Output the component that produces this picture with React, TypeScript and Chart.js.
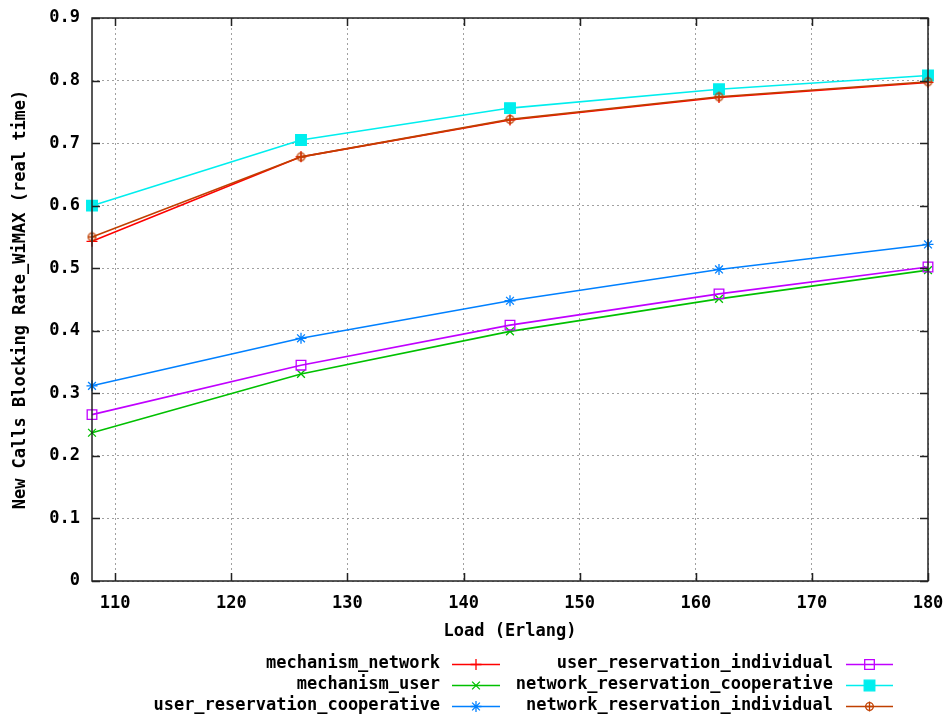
import React, { useEffect, useRef } from 'react';
import { Chart, registerables } from 'chart.js';
import { drawPoint } from 'chart.js/helpers';

Chart.register(...registerables);

// ---- data ----
const loads = [108, 126, 144, 162, 180];
const mechanismNetwork = [0.543, 0.678, 0.737, 0.773, 0.797];
const mechanismUser = [0.237, 0.331, 0.399, 0.451, 0.497];
const userReservationCooperative = [0.312, 0.388, 0.448, 0.498, 0.538];
const userReservationIndividual = [0.266, 0.345, 0.409, 0.459, 0.502];
const networkReservationCooperative = [0.6, 0.705, 0.756, 0.786, 0.808];
const networkReservationIndividual = [0.55, 0.678, 0.738, 0.774, 0.798];

const seriesNames = [
  'mechanism_network',
  'mechanism_user',
  'user_reservation_cooperative',
  'user_reservation_individual',
  'network_reservation_cooperative',
  'network_reservation_individual',
];

const xTicks = [110, 120, 130, 140, 150, 160, 170, 180];
const yTicks = [0, 0.1, 0.2, 0.3, 0.4, 0.5, 0.6, 0.7, 0.8, 0.9];
const yTickLabels = ['0', '0.1', '0.2', '0.3', '0.4', '0.5', '0.6', '0.7', '0.8', '0.9'];

const xTitle = 'Load (Erlang)';
const yTitle = 'New Calls Blocking Rate_WiMAX (real time)';

const FONT = 'DejaVu Sans Mono';
const FONT_SIZE = 17;

function makeCircleCross(color: string): HTMLCanvasElement {
  const c = document.createElement('canvas');
  c.width = 11;
  c.height = 11;
  const g = c.getContext('2d')!;
  g.strokeStyle = color;
  g.lineWidth = 1.3;
  g.beginPath();
  g.arc(5.5, 5.5, 3.8, 0, Math.PI * 2);
  g.stroke();
  g.beginPath();
  g.moveTo(5.5, 0.5);
  g.lineTo(5.5, 10.5);
  g.moveTo(1, 5.5);
  g.lineTo(10, 5.5);
  g.stroke();
  return c;
}

const framePlugin = {
  id: 'gnuFrame',
  afterDraw(chart: any) {
    const { ctx, chartArea } = chart;
    const xs = chart.scales.x;
    const ys = chart.scales.y;
    const { left, right, top, bottom } = chartArea;
    ctx.save();
    ctx.strokeStyle = '#222';
    ctx.lineWidth = 1.5;
    ctx.strokeRect(left, top, right - left, bottom - top);
    ctx.beginPath();
    xTicks.forEach((v) => {
      const px = Math.round(xs.getPixelForValue(v)) + 0.5;
      ctx.moveTo(px, bottom);
      ctx.lineTo(px, bottom - 8);
      ctx.moveTo(px, top);
      ctx.lineTo(px, top + 8);
    });
    yTicks.forEach((v) => {
      const py = Math.round(ys.getPixelForValue(v)) + 0.5;
      ctx.moveTo(left, py);
      ctx.lineTo(left + 8, py);
      ctx.moveTo(right, py);
      ctx.lineTo(right - 8, py);
    });
    ctx.stroke();

    // legend
    const cols = [
      { textRight: 440, lineStart: 452, lineEnd: 500 },
      { textRight: 833, lineStart: 846, lineEnd: 893 },
    ];
    const rows = [664, 685, 706];
    ctx.font = `bold ${FONT_SIZE}px "${FONT}"`;
    ctx.textAlign = 'right';
    ctx.textBaseline = 'middle';
    chart.data.datasets.forEach((ds: any, i: number) => {
      const col = cols[Math.floor(i / 3)];
      const y = rows[i % 3];
      ctx.fillStyle = '#000';
      ctx.fillText(ds.label, col.textRight, y);
      ctx.strokeStyle = ds.borderColor;
      ctx.lineWidth = ds.borderWidth;
      ctx.beginPath();
      ctx.moveTo(col.lineStart, y + 0.5);
      ctx.lineTo(col.lineEnd, y + 0.5);
      ctx.stroke();
      ctx.fillStyle = ds.pointBackgroundColor;
      ctx.strokeStyle = ds.pointBorderColor;
      ctx.lineWidth = ds.pointBorderWidth;
      drawPoint(ctx, {
        pointStyle: ds.pointStyle,
        radius: ds.pointRadius,
        rotation: 0,
        borderWidth: ds.pointBorderWidth,
      }, (col.lineStart + col.lineEnd) / 2, y + 0.5);
    });
    ctx.restore();
  },
};

export default function App() {
  const ref = useRef<HTMLCanvasElement | null>(null);

  useEffect(() => {
    if (!ref.current) return;
    const orange = '#c04000';
    const mk = (i: number, data: number[], color: string, pointStyle: any, radius: number, bg: string, bw = 1.3) => ({
      label: seriesNames[i],
      data: loads.map((x, k) => ({ x, y: data[k] })),
      order: 5 - i,
      borderColor: color,
      backgroundColor: color,
      borderWidth: 1.6,
      pointStyle,
      pointRadius: radius,
      pointHoverRadius: radius,
      pointBackgroundColor: bg,
      pointBorderColor: color,
      pointBorderWidth: bw,
      tension: 0,
      clip: false as any,
    });
    const datasets = [
      mk(0, mechanismNetwork, '#ff0000', 'cross', 5.5, '#ff0000'),
      mk(1, mechanismUser, '#00c000', 'crossRot', 5.5, '#00c000'),
      mk(2, userReservationCooperative, '#0080ff', 'star', 5.5, '#0080ff'),
      mk(3, userReservationIndividual, '#c000ff', 'rect', 6.8, 'rgba(0,0,0,0)'),
      mk(4, networkReservationCooperative, '#00eeee', 'rect', 7.5, '#00eeee'),
      mk(5, networkReservationIndividual, orange, makeCircleCross(orange), 5.5, orange),
    ];

    const chart = new Chart(ref.current, {
      type: 'line',
      data: { datasets },
      options: {
        animation: false,
        responsive: false,
        devicePixelRatio: 1,
        events: [],
        layout: { padding: { left: 0, right: 22, top: 18, bottom: 71 } },
        plugins: { legend: { display: false }, tooltip: { enabled: false } },
        font: { family: FONT },
        scales: {
          x: {
            type: 'linear',
            min: 108,
            max: 180,
            afterBuildTicks: (axis: any) => {
              axis.ticks = xTicks.map((v) => ({ value: v }));
            },
            afterFit: (scale: any) => {
              scale.height = 63;
              scale.paddingLeft = 0;
              scale.paddingRight = 0;
            },
            ticks: {
              autoSkip: false,
              maxRotation: 0,
              padding: 12,
              color: '#000',
              font: { family: FONT, size: FONT_SIZE, weight: 'bold' },
              callback: (v: any) => String(v),
            },
            grid: { drawTicks: false, color: '#a0a0a0', lineWidth: 1 },
            border: { display: false, dash: [2, 3] },
            title: {
              display: true,
              text: xTitle,
              color: '#000',
              font: { family: FONT, size: FONT_SIZE, weight: 'bold' },
              padding: { top: 4, bottom: 2 },
            },
          },
          y: {
            type: 'linear',
            min: 0,
            max: 0.9,
            afterBuildTicks: (axis: any) => {
              axis.ticks = yTicks.map((v) => ({ value: v }));
            },
            afterFit: (scale: any) => {
              scale.width = 92;
              scale.paddingTop = 0;
              scale.paddingBottom = 0;
            },
            ticks: {
              autoSkip: false,
              padding: 12,
              color: '#000',
              font: { family: FONT, size: FONT_SIZE, weight: 'bold' },
              callback: (_v: any, i: number) => yTickLabels[i],
            },
            grid: { drawTicks: false, color: '#a0a0a0', lineWidth: 1 },
            border: { display: false, dash: [2, 3] },
            title: {
              display: true,
              text: yTitle,
              color: '#000',
              font: { family: FONT, size: FONT_SIZE, weight: 'bold' },
              padding: { top: 10, bottom: 0 },
            },
          },
        },
      } as any,
      plugins: [framePlugin],
    });
    return () => chart.destroy();
  }, []);

  return (
    <div style={{ position: 'fixed', left: 0, top: 0, width: 950, height: 715, background: '#fff' }}>
      <canvas ref={ref} width={950} height={715} />
    </div>
  );
}
